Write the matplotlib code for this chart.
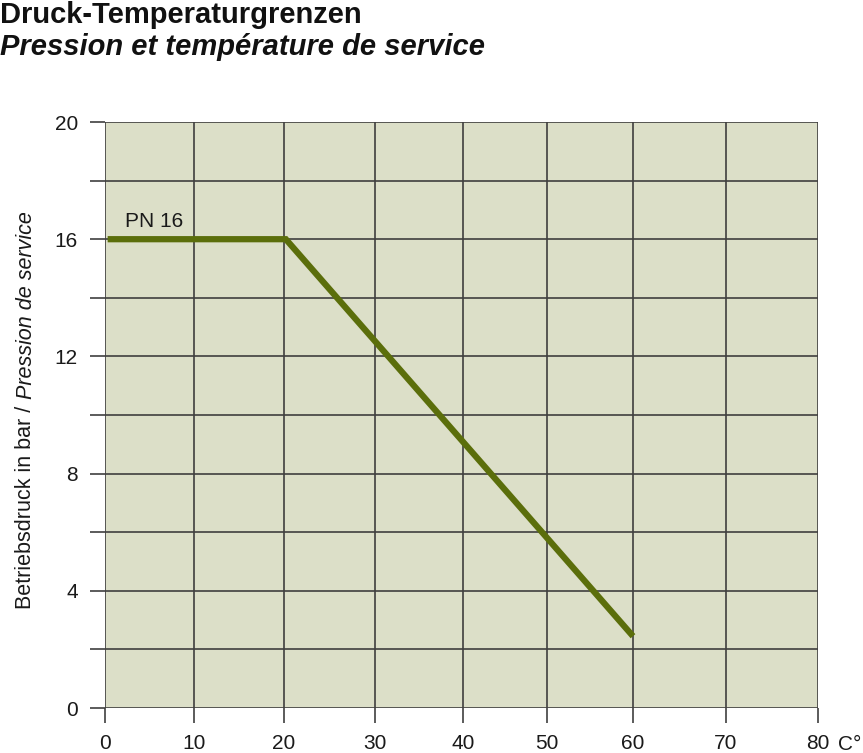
import matplotlib
matplotlib.use("Agg")
import matplotlib.pyplot as plt
import numpy as np
from matplotlib.offsetbox import TextArea, VPacker, AnchoredOffsetbox

plt.rcParams['font.family'] = ['Liberation Sans', 'DejaVu Sans']

# Data
temperature = [0.3, 20.2, 60]
pressure = [16, 16, 2.45]
x_ticks = [0, 10, 20, 30, 40, 50, 60, 70, 80]
x_tick_labels = ['0', '10', '20', '30', '40', '50', '60', '70', '80']
y_ticks = [0, 4, 8, 12, 16, 20]
y_grid = [0, 2, 4, 6, 8, 10, 12, 14, 16, 18, 20]
series_label = 'PN 16'

# the original drawing has slightly uneven temperature grid spacing
x_grid_px = np.array([105, 194, 284, 375, 463, 547, 633, 726, 818], dtype=float)
x_grid_val = np.array(x_ticks, dtype=float)


def fwd(v):
    return np.interp(v, x_grid_val, x_grid_px)


def inv(p):
    return np.interp(p, x_grid_px, x_grid_val)


fig = plt.figure(figsize=(8.63, 7.53), dpi=100)
ax = fig.add_axes([105/863, 1-708/753, (818-105)/863, (708-122)/753])
ax.set_facecolor('#dcdfc8')
ax.set_xscale('function', functions=(fwd, inv))
ax.set_xlim(0, 80)
ax.set_ylim(0, 20)

grid_color = '#3f3f3f'
for x in x_ticks:
    ax.axvline(x, color=grid_color, lw=1.2, zorder=1)
for y in y_grid:
    ax.axhline(y, color=grid_color, lw=1.2, zorder=1)

for s in ax.spines.values():
    s.set_visible(False)

ax.set_xticks(x_ticks)
ax.set_xticklabels(x_tick_labels)
ax.xaxis.set_minor_locator(matplotlib.ticker.NullLocator())
ax.set_yticks(y_grid)
ax.set_yticklabels([str(v) if v in y_ticks else '' for v in y_grid])
ax.tick_params(axis='both', length=10.5, width=1.2, color=grid_color,
               labelsize=15, labelcolor='#1a1a1a')
ax.tick_params(axis='x', pad=8)
ax.tick_params(axis='y', pad=9)

ax.plot(temperature, pressure, color='#5b6e0b', lw=4.5, solid_joinstyle='miter',
        solid_capstyle='butt', zorder=3)
ax.text(2.3, 16.6, series_label, fontsize=15, color='#1a1a1a', va='center', ha='left')

fig.text(838/863, 1-745/753, 'C°', fontsize=15, color='#1a1a1a', ha='left', va='center')

t1 = TextArea('Betriebsdruck in bar / ', textprops=dict(fontsize=15.5, color='#1a1a1a', rotation=90))
t2 = TextArea('Pression de service', textprops=dict(fontsize=15.5, color='#1a1a1a', rotation=90, style='italic'))
box = VPacker(children=[t2, t1], align='center', pad=0, sep=0)
ab = AnchoredOffsetbox(loc='center', child=box, frameon=False,
                       bbox_to_anchor=(26/863, 1-410/753), bbox_transform=fig.transFigure,
                       borderpad=0, pad=0)
fig.add_artist(ab)

fig.text(0, 1-15/753, 'Druck-Temperaturgrenzen', fontsize=21, fontweight='bold',
         color='#111111', ha='left', va='center')
fig.text(0, 1-47/753, 'Pression et température de service', fontsize=21, fontweight='bold',
         style='italic', color='#111111', ha='left', va='center')

fig.savefig('out.png', dpi=100)
